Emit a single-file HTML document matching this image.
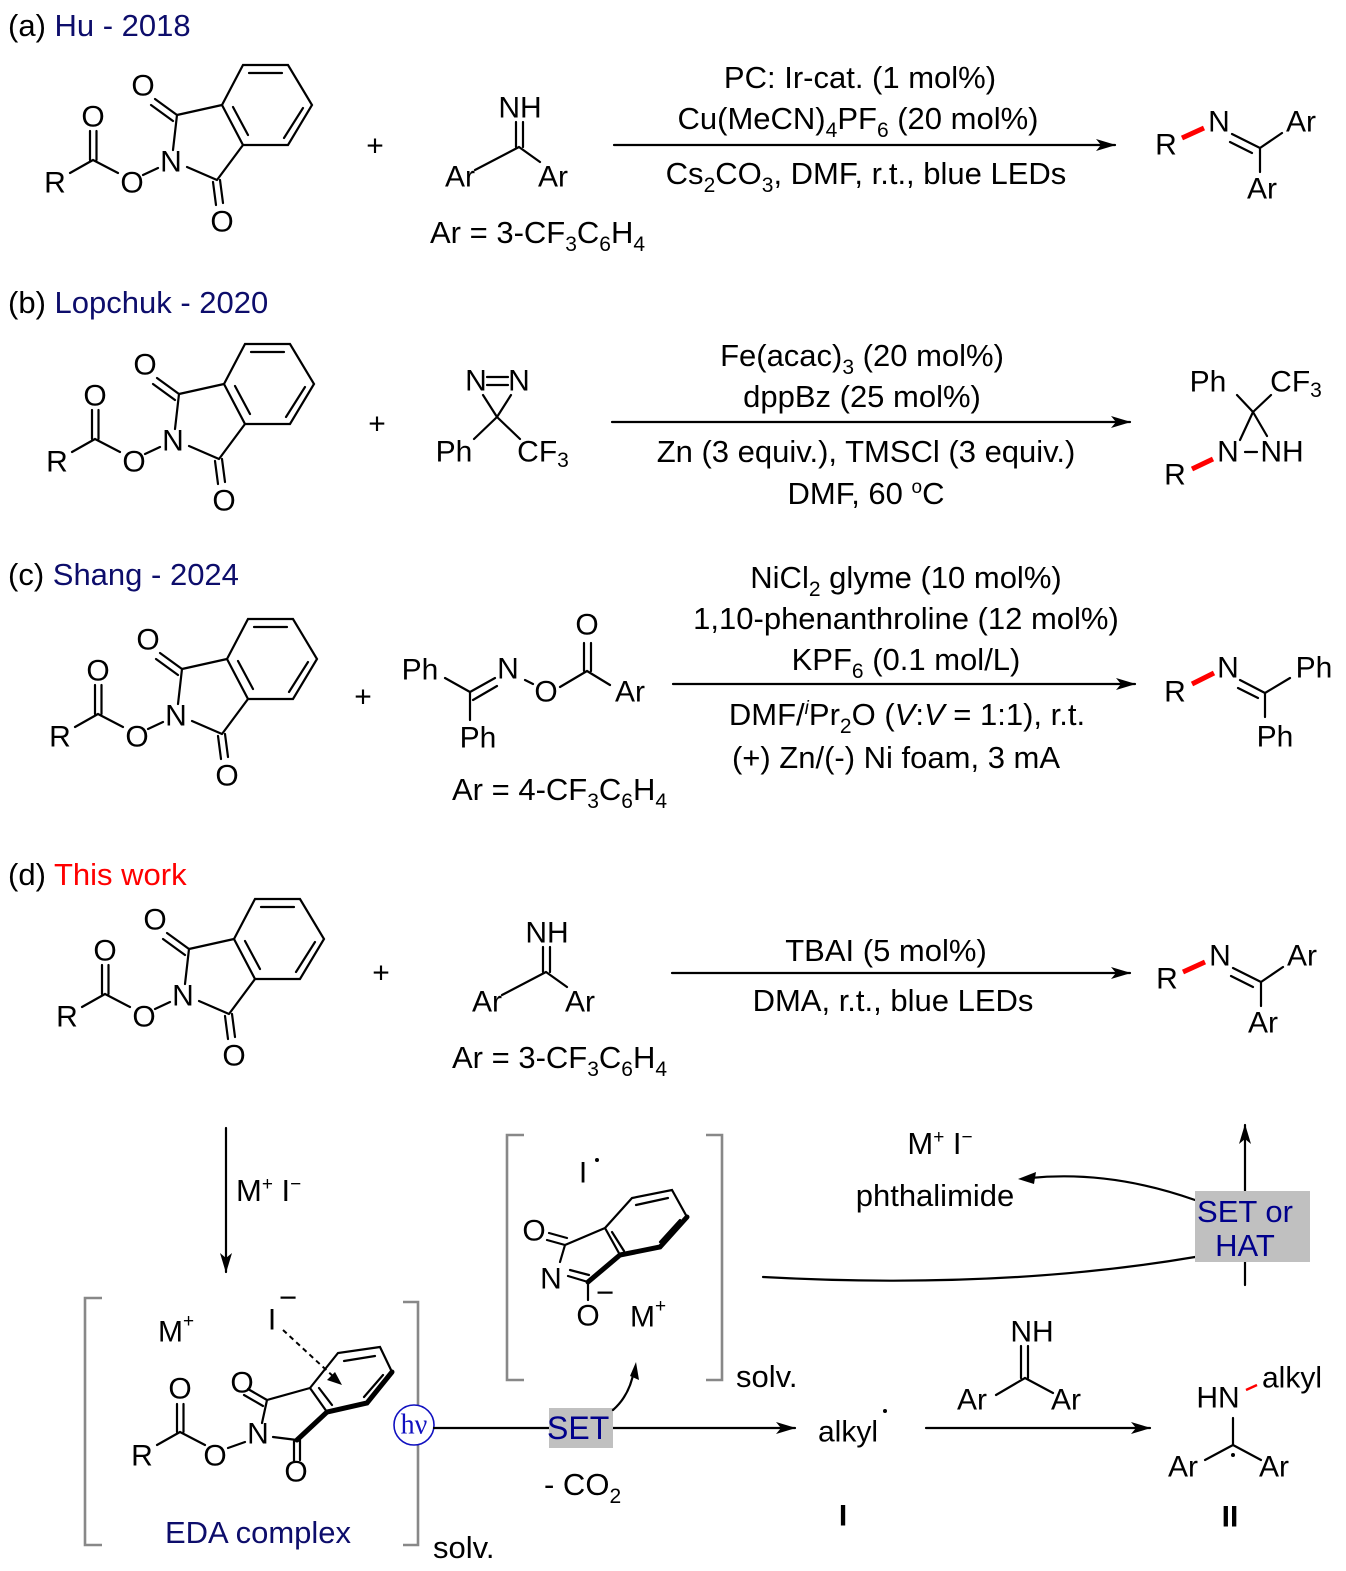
<!DOCTYPE html>
<html><head><meta charset="utf-8"><style>
html,body{margin:0;padding:0;background:#fff;}
svg{display:block;}
text{font-family:"Liberation Sans",Arial,sans-serif;font-size:31px;fill:#000;}
.a{text-anchor:middle;dominant-baseline:central;font-size:30px;}
.m{text-anchor:middle;}
.b{stroke:#000;stroke-width:2.2;fill:none;stroke-linecap:round;}
.bb{stroke:#000;stroke-width:5;fill:none;stroke-linecap:round;}
.red{stroke:#f00;stroke-width:5;fill:none;}
.br{stroke:#888;stroke-width:2.6;fill:none;}
</style></head><body>
<svg width="1346" height="1571" viewBox="0 0 1346 1571" xmlns="http://www.w3.org/2000/svg">
<defs>
<marker id="ah" markerWidth="20" markerHeight="12" refX="19" refY="6" orient="auto" markerUnits="userSpaceOnUse"><path d="M0,0 L20,6 L0,12 L5,6 Z" fill="#000"/></marker>
<g id="nhpi">
<path class="b" d="M70 173 L93 160 M90 160 L90 131 M96.5 160 L96.5 131 M93 160 L118 173 M143 175 L158 168 M173 150 L177 115 M177 115 L155 99 M173 121 L151 105 M177 115 L222 105 M187 167 L217 180 M213 182 L216 205 M220 180 L223 203 M217 180 L243 145"/>
<path class="b" d="M222 105 L243 65 L288 65 L312 105 L288 145 L243 145 Z M249 73 L282 73 M303 108 L284 138 M233 107 L248 135"/>
</g>
</defs>

<!-- (a) -->
<text x="8" y="36" font-size="31">(a) <tspan style="fill:#0d0d6b">Hu - 2018</tspan></text>
<use href="#nhpi"/>
<text class="a" x="55" y="183">R</text><text class="a" x="93" y="117">O</text><text class="a" x="132" y="183">O</text><text class="a" x="171" y="162">N</text><text class="a" x="143" y="86">O</text><text class="a" x="222" y="222">O</text>
<text class="a" x="375" y="146">+</text>
<text class="a" x="520" y="108">NH</text>
<path class="b" d="M516 122 L516 147 M523 122 L523 147 M519 147 L475 170 M519 147 L540 162"/>
<text class="a" x="460" y="177">Ar</text><text class="a" x="553" y="177">Ar</text>
<text x="430" y="243">Ar = 3-CF<tspan font-size="21" dy="8">3</tspan><tspan dy="-8">C</tspan><tspan font-size="21" dy="8">6</tspan><tspan dy="-8">H</tspan><tspan font-size="21" dy="8">4</tspan></text>
<line class="b" x1="614" y1="145" x2="1115" y2="145" marker-end="url(#ah)"/>
<text class="m" x="860" y="88">PC: Ir-cat. (1 mol%)</text>
<text class="m" x="858" y="129">Cu(MeCN)<tspan font-size="21" dy="8">4</tspan><tspan dy="-8">PF</tspan><tspan font-size="21" dy="8">6</tspan><tspan dy="-8"> (20 mol%)</tspan></text>
<text class="m" x="866" y="184">Cs<tspan font-size="21" dy="8">2</tspan><tspan dy="-8">CO</tspan><tspan font-size="21" dy="8">3</tspan><tspan dy="-8">, DMF, r.t., blue LEDs</tspan></text>
<g>
<text class="a" x="1166" y="145">R</text>
<line class="red" x1="1182" y1="138" x2="1204" y2="128"/>
<text class="a" x="1219" y="122">N</text>
<path class="b" d="M1232 134 L1260 148 M1230 142 L1252 153 M1260 148 L1282 133 M1260 148 L1260 172"/>
<text class="a" x="1301" y="122">Ar</text><text class="a" x="1262" y="189">Ar</text>
</g>

<!-- (b) -->
<text x="8" y="313" font-size="31">(b) <tspan style="fill:#0d0d6b">Lopchuk - 2020</tspan></text>
<use href="#nhpi" transform="translate(2,279)"/>
<g transform="translate(2,279)">
<text class="a" x="55" y="183">R</text><text class="a" x="93" y="117">O</text><text class="a" x="132" y="183">O</text><text class="a" x="171" y="162">N</text><text class="a" x="143" y="86">O</text><text class="a" x="222" y="222">O</text></g>
<text class="a" x="377" y="424">+</text>
<text class="a" x="476" y="381">N</text><text class="a" x="519" y="381">N</text>
<path class="b" d="M487 377 L508 377 M487 385 L508 385 M483 395 L497 417 M511 395 L497 417 M497 417 L474 439 M497 417 L520 439"/>
<text class="a" x="454" y="452">Ph</text>
<text class="a" x="543" y="452">CF<tspan font-size="21" dy="8">3</tspan></text>
<line class="b" x1="612" y1="422" x2="1130" y2="422" marker-end="url(#ah)"/>
<text class="m" x="862" y="366">Fe(acac)<tspan font-size="21" dy="8">3</tspan><tspan dy="-8"> (20 mol%)</tspan></text>
<text class="m" x="862" y="407">dppBz (25 mol%)</text>
<text class="m" x="866" y="462">Zn (3 equiv.), TMSCl (3 equiv.)</text>
<text class="m" x="866" y="504">DMF, 60 <tspan font-size="19" dy="-11">o</tspan><tspan dy="11">C</tspan></text>
<text class="a" x="1208" y="382">Ph</text><text class="a" x="1296" y="382">CF<tspan font-size="21" dy="8">3</tspan></text>
<path class="b" d="M1237 395 L1253 412 M1271 395 L1253 412 M1253 412 L1240 440 M1253 412 L1267 436 M1245 452 L1257 452"/>
<text class="a" x="1228" y="452">N</text><text class="a" x="1282" y="452">NH</text>
<text class="a" x="1175" y="475">R</text>
<line class="red" x1="1192" y1="469" x2="1213" y2="459"/>

<!-- (c) -->
<text x="8" y="585" font-size="31">(c) <tspan style="fill:#0d0d6b">Shang - 2024</tspan></text>
<use href="#nhpi" transform="translate(5,554)"/>
<g transform="translate(5,554)">
<text class="a" x="55" y="183">R</text><text class="a" x="93" y="117">O</text><text class="a" x="132" y="183">O</text><text class="a" x="171" y="162">N</text><text class="a" x="143" y="86">O</text><text class="a" x="222" y="222">O</text></g>
<text class="a" x="363" y="697">+</text>
<text class="a" x="420" y="670">Ph</text>
<path class="b" d="M445 678 L470 692 M470 692 L495 678 M473 700 L497 686 M470 692 L470 720 M525 680 L533 684 M560 687 L587 671 M584 671 L584 643 M591 671 L591 643 M587 671 L610 685"/>
<text class="a" x="508" y="669">N</text><text class="a" x="546" y="692">O</text><text class="a" x="587" y="625">O</text><text class="a" x="630" y="692">Ar</text><text class="a" x="478" y="738">Ph</text>
<text x="452" y="800">Ar = 4-CF<tspan font-size="21" dy="8">3</tspan><tspan dy="-8">C</tspan><tspan font-size="21" dy="8">6</tspan><tspan dy="-8">H</tspan><tspan font-size="21" dy="8">4</tspan></text>
<line class="b" x1="673" y1="684" x2="1135" y2="684" marker-end="url(#ah)"/>
<text class="m" x="906" y="588">NiCl<tspan font-size="21" dy="8">2</tspan><tspan dy="-8"> glyme (10 mol%)</tspan></text>
<text class="m" x="906" y="629">1,10-phenanthroline (12 mol%)</text>
<text class="m" x="906" y="670">KPF<tspan font-size="21" dy="8">6</tspan><tspan dy="-8"> (0.1 mol/L)</tspan></text>
<text class="m" x="907" y="725">DMF/<tspan font-size="19" dy="-11" font-style="italic">i</tspan><tspan dy="11">Pr</tspan><tspan font-size="21" dy="8">2</tspan><tspan dy="-8">O (</tspan><tspan font-style="italic">V</tspan>:<tspan font-style="italic">V</tspan> = 1:1), r.t.</text>
<text class="m" x="896" y="768">(+) Zn/(-) Ni foam, 3 mA</text>
<text class="a" x="1175" y="692">R</text>
<line class="red" x1="1192" y1="684" x2="1214" y2="673"/>
<text class="a" x="1228" y="668">N</text>
<path class="b" d="M1240 680 L1265 693 M1238 688 L1258 698 M1265 693 L1290 678 M1265 693 L1265 717"/>
<text class="a" x="1314" y="668">Ph</text><text class="a" x="1275" y="737">Ph</text>

<!-- (d) -->
<text x="8" y="885" font-size="31">(d) <tspan style="fill:#f00">This work</tspan></text>
<use href="#nhpi" transform="translate(12,834)"/>
<g transform="translate(12,834)">
<text class="a" x="55" y="183">R</text><text class="a" x="93" y="117">O</text><text class="a" x="132" y="183">O</text><text class="a" x="171" y="162">N</text><text class="a" x="143" y="86">O</text><text class="a" x="222" y="222">O</text></g>
<text class="a" x="381" y="973">+</text>
<g transform="translate(27,825)">
<text class="a" x="520" y="108">NH</text>
<path class="b" d="M516 122 L516 147 M523 122 L523 147 M519 147 L475 170 M519 147 L540 162"/>
<text class="a" x="460" y="177">Ar</text><text class="a" x="553" y="177">Ar</text></g>
<text x="452" y="1068">Ar = 3-CF<tspan font-size="21" dy="8">3</tspan><tspan dy="-8">C</tspan><tspan font-size="21" dy="8">6</tspan><tspan dy="-8">H</tspan><tspan font-size="21" dy="8">4</tspan></text>
<line class="b" x1="672" y1="973" x2="1130" y2="973" marker-end="url(#ah)"/>
<text class="m" x="886" y="961">TBAI (5 mol%)</text>
<text class="m" x="893" y="1011">DMA, r.t., blue LEDs</text>
<g transform="translate(1,834)">
<text class="a" x="1166" y="145">R</text>
<line class="red" x1="1182" y1="138" x2="1204" y2="128"/>
<text class="a" x="1219" y="122">N</text>
<path class="b" d="M1232 134 L1260 148 M1230 142 L1252 153 M1260 148 L1282 133 M1260 148 L1260 172"/>
<text class="a" x="1301" y="122">Ar</text><text class="a" x="1262" y="189">Ar</text></g>

<!-- mechanism -->
<line class="b" x1="226" y1="1128" x2="226" y2="1272" marker-end="url(#ah)"/>
<text x="236" y="1201">M<tspan font-size="19" dy="-11">+</tspan><tspan dy="11"> I</tspan><tspan font-size="19" dy="-11">−</tspan></text>

<path class="br" d="M102 1298 L85 1298 L85 1545 L102 1545 M403 1302 L418 1302 L418 1545 L403 1545"/>
<text x="433" y="1558" font-size="19">solv.</text>
<text class="a" x="176" y="1332">M<tspan font-size="19" dy="-11">+</tspan></text>
<text class="a" x="272" y="1320">I</text><text x="279" y="1308" font-size="20">−</text>
<path d="M283 1330 L336 1379" stroke="#000" stroke-width="2" stroke-dasharray="5,4" fill="none"/>
<path d="M342 1385 L327 1380 L335 1372 Z" fill="#000"/>
<path class="b" d="M157 1445 L180 1432 M177 1432 L177 1404 M183.5 1432 L183.5 1404 M180 1432 L205 1445 M228 1448 L245 1442 M262 1423 L267 1400 M267 1400 L248 1389 M263 1406 L244 1395 M267 1400 L310 1388 M273 1437 L297 1440 M294 1441 L294 1461 M300 1440 L300 1460"/>
<path class="b" d="M327 1412 L310 1388 L338 1353 L380 1347 L392 1372 M344 1361 L375 1356 M383 1375 L364 1397 M319 1388 L332 1405"/>
<path class="bb" d="M297 1440 L327 1412 L367 1403 L392 1372"/>
<text class="a" x="142" y="1456">R</text><text class="a" x="180" y="1389">O</text><text class="a" x="215" y="1456">O</text><text class="a" x="258" y="1434">N</text><text class="a" x="242" y="1383">O</text><text class="a" x="296" y="1472">O</text>
<text class="m" x="258" y="1543" style="fill:#0d0d6b">EDA complex</text>

<circle cx="414" cy="1425" r="20" fill="#fff" stroke="#1010c0" stroke-width="1.6"/>
<text class="a" x="414" y="1425" style="fill:#1010c0;font-family:'Liberation Serif',serif;font-size:28px">hν</text>
<line class="b" x1="434" y1="1428" x2="795" y2="1428" marker-end="url(#ah)"/>
<rect x="549" y="1408" width="64" height="40" fill="#c0c0c0"/>
<text x="547" y="1439" style="fill:#00008b;font-size:32px">SET</text>
<path class="b" d="M613 1410 Q630 1395 634 1370"/>
<path d="M636 1362 L639 1380 L630 1376 Z" fill="#000"/>
<text x="544" y="1495">- CO<tspan font-size="21" dy="8">2</tspan></text>

<path class="br" d="M524 1135 L507 1135 L507 1380 L524 1380 M706 1135 L722 1135 L722 1380 L706 1380"/>
<text x="736" y="1387" font-size="19">solv.</text>
<text class="a" x="583" y="1173">I</text><circle cx="597" cy="1160" r="2" fill="#000"/>
<path class="b" d="M547 1240 L565 1245 M549 1233 L567 1238 M565 1245 L605 1228 M565 1245 L560 1262 M568 1276 L588 1282 M570 1270 L589 1275 M588 1282 L588 1300 M605 1228 L632 1198 L672 1190 L687 1217 M605 1228 L620 1255 M612 1232 L624 1251 M636 1205 L668 1198 M680 1220 L660 1242"/>
<path class="bb" d="M588 1282 L620 1255 L660 1247 L687 1217"/>
<text class="a" x="534" y="1231">O</text><text class="a" x="551" y="1279">N</text><text class="a" x="588" y="1316">O</text><text x="596" y="1303" font-size="20">−</text>
<text class="a" x="648" y="1317">M<tspan font-size="19" dy="-11">+</tspan></text>

<text class="a" x="848" y="1432">alkyl</text><circle cx="885" cy="1411" r="2" fill="#000"/>
<text class="a" x="843" y="1516" font-weight="bold">I</text>
<line class="b" x1="926" y1="1428" x2="1150" y2="1428" marker-end="url(#ah)"/>
<text class="a" x="1032" y="1332">NH</text>
<path class="b" d="M1021 1346 L1021 1378 M1028 1346 L1028 1378 M1025 1378 L996 1395 M1025 1378 L1053 1393"/>
<text class="a" x="972" y="1400">Ar</text><text class="a" x="1066" y="1400">Ar</text>
<text class="a" x="1218" y="1398">HN</text>
<line x1="1246" y1="1390" x2="1257" y2="1385" stroke="#f00" stroke-width="2.5"/>
<text class="a" x="1292" y="1378">alkyl</text>
<path class="b" d="M1233 1418 L1233 1445 M1233 1445 L1205 1460 M1233 1445 L1261 1460"/>
<circle cx="1233" cy="1455" r="2" fill="#000"/>
<text class="a" x="1183" y="1467">Ar</text><text class="a" x="1274" y="1467">Ar</text>
<text class="a" x="1230" y="1517" font-weight="bold">II</text>

<line class="b" x1="1245" y1="1285" x2="1245" y2="1125" marker-end="url(#ah)"/>
<path class="b" d="M763 1277 Q1000 1290 1195 1257"/>
<path class="b" d="M1195 1200 Q1110 1170 1030 1178"/>
<path d="M1018 1179 L1036 1172 L1034 1184 Z" fill="#000"/>
<rect x="1195" y="1191" width="115" height="71" fill="#c0c0c0"/>
<text class="m" x="1245" y="1222" style="fill:#00008b">SET or</text>
<text class="m" x="1245" y="1256" style="fill:#00008b">HAT</text>
<text class="m" x="940" y="1154">M<tspan font-size="19" dy="-11">+</tspan><tspan dy="11"> I</tspan><tspan font-size="19" dy="-11">−</tspan></text>
<text class="m" x="935" y="1206">phthalimide</text>
</svg>
</body></html>
